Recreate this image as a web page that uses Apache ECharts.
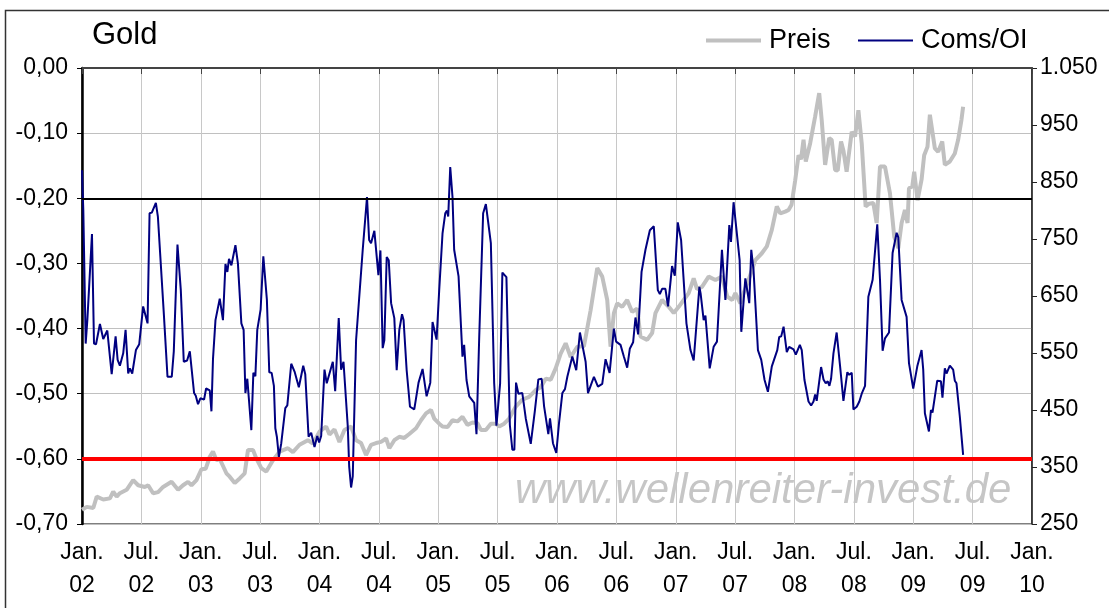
<!DOCTYPE html>
<html><head><meta charset="utf-8">
<script src="https://cdn.jsdelivr.net/npm/echarts@6/dist/echarts.min.js"></script>
<style>html,body{margin:0;padding:0;background:#fff}#c{width:1109px;height:608px}</style>
</head><body><div id="c"></div>
<script>
// time in years since Jan 2002
const comsT = [0.000,0.011,0.031,0.045,0.084,0.101,0.118,0.151,0.179,0.213,0.250,0.283,0.300,0.319,0.347,0.367,0.389,0.403,0.423,0.454,0.482,0.515,0.552,0.569,0.588,0.622,0.639,0.655,0.689,0.720,0.756,0.773,0.804,0.832,0.857,0.885,0.908,0.922,0.944,0.958,0.977,0.997,1.028,1.045,1.076,1.090,1.103,1.124,1.160,1.187,1.208,1.224,1.238,1.258,1.292,1.313,1.342,1.361,1.376,1.392,1.426,1.443,1.460,1.476,1.504,1.527,1.557,1.577,1.597,1.616,1.628,1.641,1.658,1.678,1.712,1.729,1.762,1.790,1.826,1.863,1.880,1.908,1.930,1.958,1.981,1.997,2.014,2.042,2.061,2.112,2.132,2.162,2.182,2.202,2.238,2.250,2.266,2.280,2.308,2.364,2.400,2.418,2.434,2.462,2.496,2.513,2.532,2.546,2.566,2.583,2.603,2.630,2.650,2.672,2.695,2.708,2.734,2.762,2.798,2.834,2.868,2.902,2.933,2.952,2.986,3.008,3.036,3.059,3.073,3.084,3.101,3.120,3.134,3.171,3.204,3.218,3.238,3.261,3.303,3.322,3.345,3.378,3.401,3.443,3.471,3.490,3.521,3.540,3.574,3.603,3.624,3.641,3.655,3.675,3.708,3.737,3.779,3.813,3.843,3.871,3.891,3.927,3.941,3.966,3.994,4.017,4.045,4.067,4.087,4.129,4.162,4.193,4.241,4.261,4.283,4.311,4.345,4.381,4.409,4.443,4.479,4.498,4.535,4.563,4.591,4.613,4.641,4.661,4.683,4.712,4.745,4.782,4.798,4.815,4.849,4.866,4.885,4.913,4.935,4.969,4.992,5.017,5.045,5.090,5.124,5.137,5.151,5.199,5.210,5.235,5.250,5.286,5.319,5.347,5.389,5.397,5.418,5.451,5.465,5.487,5.538,5.552,5.586,5.619,5.636,5.655,5.692,5.720,5.748,5.776,5.790,5.809,5.824,5.855,5.871,5.888,5.908,5.935,5.955,5.992,6.011,6.025,6.045,6.061,6.084,6.118,6.140,6.160,6.174,6.187,6.224,6.244,6.263,6.280,6.294,6.308,6.328,6.355,6.384,6.412,6.426,6.445,6.460,6.482,6.496,6.524,6.546,6.566,6.594,6.622,6.658,6.697,6.720,6.742,6.762,6.796,6.826,6.860,6.874,6.902,6.944,6.964,7.000,7.034,7.070,7.084,7.098,7.132,7.149,7.162,7.202,7.233,7.246,7.266,7.280,7.308,7.336,7.350,7.364,7.392,7.420];
const comsV = [-0.157,-0.218,-0.423,-0.387,-0.255,-0.423,-0.424,-0.393,-0.416,-0.403,-0.470,-0.412,-0.448,-0.457,-0.438,-0.402,-0.469,-0.461,-0.469,-0.433,-0.424,-0.366,-0.392,-0.223,-0.222,-0.207,-0.228,-0.228,-0.377,-0.474,-0.474,-0.435,-0.271,-0.341,-0.451,-0.449,-0.435,-0.435,-0.499,-0.503,-0.516,-0.507,-0.509,-0.492,-0.495,-0.527,-0.447,-0.387,-0.354,-0.387,-0.301,-0.313,-0.293,-0.303,-0.272,-0.300,-0.392,-0.402,-0.499,-0.477,-0.556,-0.468,-0.473,-0.402,-0.371,-0.289,-0.356,-0.467,-0.468,-0.488,-0.553,-0.566,-0.597,-0.576,-0.522,-0.518,-0.454,-0.466,-0.490,-0.457,-0.470,-0.566,-0.560,-0.582,-0.565,-0.575,-0.565,-0.463,-0.484,-0.451,-0.496,-0.384,-0.463,-0.451,-0.550,-0.612,-0.644,-0.627,-0.418,-0.279,-0.198,-0.264,-0.269,-0.250,-0.318,-0.280,-0.430,-0.418,-0.290,-0.295,-0.361,-0.384,-0.464,-0.402,-0.378,-0.387,-0.464,-0.520,-0.524,-0.483,-0.462,-0.504,-0.483,-0.390,-0.417,-0.341,-0.254,-0.223,-0.219,-0.228,-0.152,-0.198,-0.279,-0.320,-0.443,-0.425,-0.479,-0.504,-0.514,-0.562,-0.413,-0.223,-0.209,-0.269,-0.484,-0.549,-0.484,-0.314,-0.321,-0.548,-0.586,-0.586,-0.483,-0.500,-0.499,-0.538,-0.577,-0.527,-0.478,-0.477,-0.519,-0.562,-0.538,-0.576,-0.591,-0.545,-0.499,-0.493,-0.474,-0.443,-0.464,-0.406,-0.451,-0.499,-0.488,-0.474,-0.489,-0.485,-0.447,-0.468,-0.400,-0.420,-0.425,-0.443,-0.460,-0.431,-0.421,-0.383,-0.409,-0.313,-0.279,-0.249,-0.250,-0.243,-0.341,-0.347,-0.339,-0.339,-0.366,-0.304,-0.319,-0.237,-0.264,-0.392,-0.433,-0.430,-0.449,-0.336,-0.347,-0.387,-0.380,-0.461,-0.428,-0.420,-0.279,-0.280,-0.356,-0.241,-0.267,-0.206,-0.295,-0.405,-0.323,-0.361,-0.279,-0.310,-0.433,-0.448,-0.479,-0.497,-0.497,-0.458,-0.457,-0.433,-0.413,-0.412,-0.397,-0.436,-0.428,-0.432,-0.440,-0.441,-0.425,-0.433,-0.479,-0.512,-0.518,-0.512,-0.501,-0.511,-0.459,-0.478,-0.484,-0.481,-0.488,-0.477,-0.438,-0.406,-0.458,-0.511,-0.511,-0.467,-0.471,-0.468,-0.524,-0.520,-0.512,-0.500,-0.488,-0.351,-0.325,-0.240,-0.325,-0.434,-0.415,-0.406,-0.284,-0.253,-0.260,-0.356,-0.382,-0.453,-0.492,-0.458,-0.433,-0.463,-0.530,-0.558,-0.525,-0.529,-0.480,-0.481,-0.506,-0.461,-0.469,-0.457,-0.463,-0.480,-0.484,-0.535,-0.594];
const priceT = [0.000,0.040,0.095,0.124,0.179,0.235,0.263,0.292,0.319,0.376,0.431,0.473,0.529,0.557,0.599,0.641,0.683,0.754,0.809,0.851,0.893,0.922,0.964,1.006,1.042,1.076,1.103,1.132,1.160,1.216,1.244,1.286,1.328,1.370,1.398,1.440,1.468,1.510,1.552,1.608,1.664,1.734,1.776,1.832,1.902,1.944,2.000,2.056,2.084,2.126,2.168,2.210,2.266,2.308,2.350,2.392,2.434,2.476,2.518,2.561,2.588,2.630,2.672,2.714,2.756,2.813,2.855,2.897,2.939,2.966,3.008,3.036,3.078,3.120,3.162,3.204,3.246,3.288,3.330,3.359,3.401,3.443,3.485,3.513,3.555,3.597,3.653,3.708,3.765,3.821,3.863,3.905,3.947,3.989,4.031,4.073,4.115,4.171,4.227,4.283,4.339,4.381,4.423,4.451,4.479,4.507,4.549,4.591,4.633,4.675,4.703,4.759,4.801,4.829,4.885,4.941,4.983,5.025,5.067,5.109,5.151,5.179,5.221,5.277,5.334,5.389,5.434,5.476,5.502,5.544,5.571,5.613,5.670,5.725,5.767,5.809,5.851,5.880,5.922,5.950,5.975,6.006,6.034,6.055,6.076,6.095,6.132,6.174,6.208,6.229,6.258,6.292,6.313,6.342,6.364,6.392,6.412,6.439,6.482,6.510,6.538,6.566,6.599,6.628,6.664,6.692,6.720,6.762,6.804,6.840,6.874,6.902,6.930,6.952,6.964,6.992,7.008,7.036,7.070,7.092,7.120,7.140,7.155,7.182,7.210,7.244,7.266,7.308,7.350,7.378,7.406,7.420];
const priceV = [275,280,278,298,293,295,307,298,304,310,327,318,315,318,304,306,315,324,310,318,324,318,327,346,347,368,377,362,364,339,333,322,330,339,380,380,365,348,342,362,377,383,376,389,397,391,412,421,407,416,394,415,421,397,392,371,389,392,394,400,383,397,403,401,408,418,432,444,450,435,426,421,420,432,430,438,424,428,427,415,415,426,426,421,426,435,456,468,473,485,490,505,503,523,549,567,543,561,562,625,699,684,643,561,620,637,631,643,622,628,579,573,585,620,643,631,620,631,643,655,681,662,666,684,678,684,649,643,655,637,655,678,713,725,737,766,807,795,798,801,810,853,897,890,924,886,918,965,1006,959,880,927,924,871,870,921,905,868,938,930,976,918,807,812,813,778,877,877,830,754,734,778,801,778,839,842,868,818,854,897,912,968,968,909,903,921,880,886,900,924,959,982];
const xTickLabels = ['Jan.\n02','Jul.\n02','Jan.\n03','Jul.\n03','Jan.\n04','Jul.\n04','Jan.\n05','Jul.\n05','Jan.\n06','Jul.\n06','Jan.\n07','Jul.\n07','Jan.\n08','Jul.\n08','Jan.\n09','Jul.\n09','Jan.\n10'];
const upperLevel = -0.20;
const lowerLevel = -0.60;

const FONT = "'Liberation Sans', Arial, sans-serif";
const chart = echarts.init(document.getElementById('c'));
const comsData = comsT.map((t, i) => [t, comsV[i]]);
const priceData = priceT.map((t, i) => [t, priceV[i]]);

chart.setOption({
  animation: false,
  backgroundColor: '#fff',
  textStyle: { fontFamily: FONT, color: '#000' },
  graphic: [
    { type: 'rect', left: 3, top: 8, shape: { width: 1130, height: 640 }, style: { fill: 'none', stroke: '#333', lineWidth: 1.5 }, z: -1 },
    { type: 'text', left: 92, top: 20, style: { text: 'Gold', fontSize: 31, fontFamily: FONT, fill: '#000' } },
    { type: 'text', left: 515, top: 470, style: { text: 'www.wellenreiter-invest.de', fontSize: 42, fontStyle: 'italic', fontFamily: FONT, fill: '#c6c6c6', shadowColor: 'rgba(0,0,0,0.18)', shadowBlur: 3, shadowOffsetX: 1, shadowOffsetY: 1 }, z: 1 }
  ],
  legend: [
    { left: 706, top: 27, padding: 0, itemWidth: 55, itemHeight: 4, icon: 'rect',
      textStyle: { fontSize: 27, fontFamily: FONT, color: '#000', padding: [0, 0, 0, 3] },
      data: ['Preis'] },
    { left: 858, top: 27, padding: 0, itemWidth: 55, itemHeight: 2, icon: 'rect',
      textStyle: { fontSize: 27, fontFamily: FONT, color: '#000', padding: [0, 0, 0, 3] },
      data: ['Coms/OI'] }
  ],
  grid: { left: 82, right: 77, top: 68, bottom: 84, show: true, borderColor: '#555', borderWidth: 1.5, backgroundColor: 'transparent' },
  xAxis: {
    type: 'value', min: 0, max: 8, interval: 0.5,
    axisLine: { lineStyle: { color: '#444', width: 2 } },
    axisTick: { show: true, length: 6, lineStyle: { color: '#444' } },
    axisLabel: { fontSize: 23, lineHeight: 33, margin: 12, color: '#000', fontFamily: FONT,
      formatter: v => xTickLabels[Math.round(v / 0.5)] },
    splitLine: { show: true, lineStyle: { color: '#c8c8c8', width: 1 } }
  },
  yAxis: [
    { type: 'value', min: -0.70, max: 0, interval: 0.1,
      axisLine: { show: true, lineStyle: { color: '#000', width: 2.5 } },
      axisTick: { show: true, length: 5, lineStyle: { color: '#000' } },
      axisLabel: { fontSize: 23, margin: 14, color: '#000', fontFamily: FONT,
        formatter: v => v.toFixed(2).replace('.', ',') },
      splitLine: { show: true, lineStyle: { color: '#c0c0c0', width: 1 } } },
    { type: 'value', min: 250, max: 1050, interval: 100, position: 'right',
      axisLine: { show: true, lineStyle: { color: '#222', width: 1.5 } },
      axisTick: { show: true, length: 5, lineStyle: { color: '#222' } },
      axisLabel: { fontSize: 23, margin: 8, color: '#000', fontFamily: FONT,
        formatter: v => v >= 1000 ? Math.floor(v / 1000) + '.' + String(v % 1000).padStart(3, '0') : String(v) },
      splitLine: { show: false } }
  ],
  series: [
    { name: 'Preis', type: 'line', yAxisIndex: 1, data: priceData, showSymbol: false, symbol: 'none',
      lineStyle: { color: '#c0c0c0', width: 4 }, itemStyle: { color: '#c0c0c0' }, z: 2 },
    { name: 'Coms/OI', type: 'line', yAxisIndex: 0, data: comsData, showSymbol: false, symbol: 'none',
      lineStyle: { color: '#000080', width: 2 }, itemStyle: { color: '#000080' }, z: 3,
      markLine: { silent: true, symbol: 'none', label: { show: false },
        data: [
          { yAxis: upperLevel, lineStyle: { color: '#000', width: 2, type: 'solid' } },
          { yAxis: lowerLevel, lineStyle: { color: '#ff0000', width: 4, type: 'solid' } }
        ] } }
  ]
});
</script></body></html>
